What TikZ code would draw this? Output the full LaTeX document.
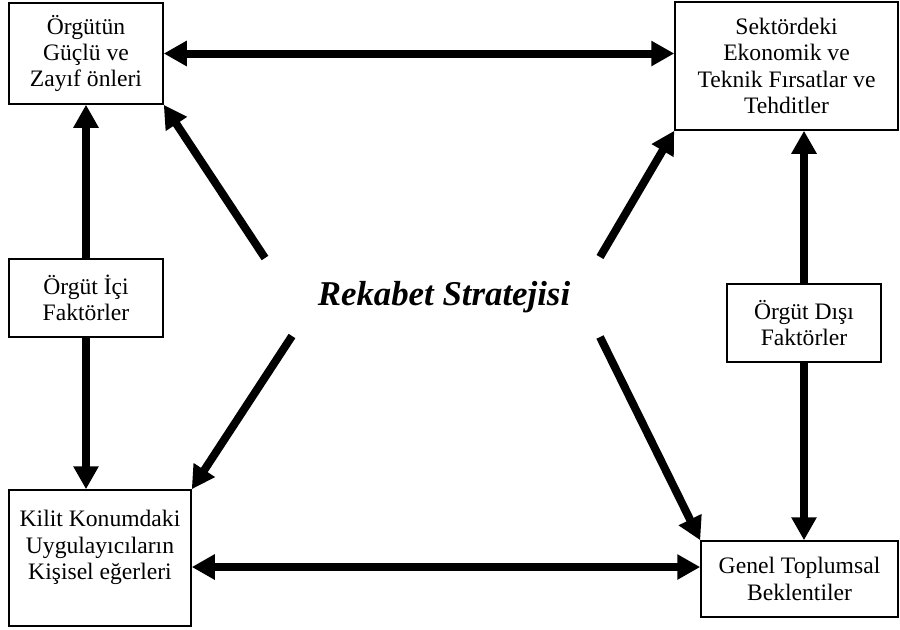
\documentclass[tikz,border=0pt]{standalone}
\usepackage{fontspec}
\setmainfont{Liberation Serif}
\usetikzlibrary{arrows.meta,calc}
\begin{document}
\begin{tikzpicture}[x=0.5pt,y=-0.5pt,
  box/.style={draw,line width=0.75pt,inner sep=0pt,align=center,font=\fontsize{11.8}{13.2}\selectfont},
  arr/.style={line width=4pt,-{Triangle[length=11.5pt,width=12pt]}},
  darr/.style={line width=4pt,{Triangle[length=11.5pt,width=12pt]}-{Triangle[length=11.5pt,width=12pt]}}]
\useasboundingbox (0,0) rectangle (900,629);
\node[box,minimum width=77pt,minimum height=50.5pt] (b1) at (86,53.5) {Örgütün\\Güçlü ve\\Zayıf önleri};
\node[box,minimum width=111.5pt,minimum height=64pt] (b2) at (786.5,66) {Sektördeki\\Ekonomik ve\\Teknik Fırsatlar ve\\Tehditler};
\node[box,minimum width=77pt,minimum height=39pt] (b3) at (86,298) {Örgüt İçi\\Faktörler};
\node[box,minimum width=77pt,minimum height=39pt] (b4) at (804,323) {Örgüt Dışı\\Faktörler};
\node[box,minimum width=91pt,minimum height=68pt] (b5) at (100,558) {Kilit Konumdaki\\Uygulayıcıların\\Kişisel eğerleri\\\mbox{}};
\node[box,minimum width=98.5pt,minimum height=38pt] (b6) at (799.5,579) {Genel Toplumsal\\Beklentiler};
\node[font=\fontsize{17.4}{20}\selectfont\bfseries\itshape] (rs) at (444,297) {Rekabet Stratejisi};
\coordinate (d1) at (265,258);
\coordinate (d2) at (600,257);
\coordinate (d3) at (292,336);
\coordinate (d4) at (600,337);
\coordinate (h) at ($(b5.east)+(0,9)$);
\draw[darr] (b1.east) -- (b1.east -| b2.west);
\draw[darr] (h) -- (h -| b6.west);
\draw[arr] (b3.north) -- (b1.south);
\draw[arr] (b3.south) -- (b3.south |- b5.north);
\draw[arr] (b4.north) -- (b4.north |- b2.south);
\draw[arr] (b4.south) -- (b4.south |- b6.north);
\draw[arr] (d1) -- (b1.south east);
\draw[arr] (d2) -- (b2.south west);
\draw[arr] (d3) -- (b5.north east);
\draw[arr] (d4) -- (b6.north west);
\end{tikzpicture}
\end{document}
